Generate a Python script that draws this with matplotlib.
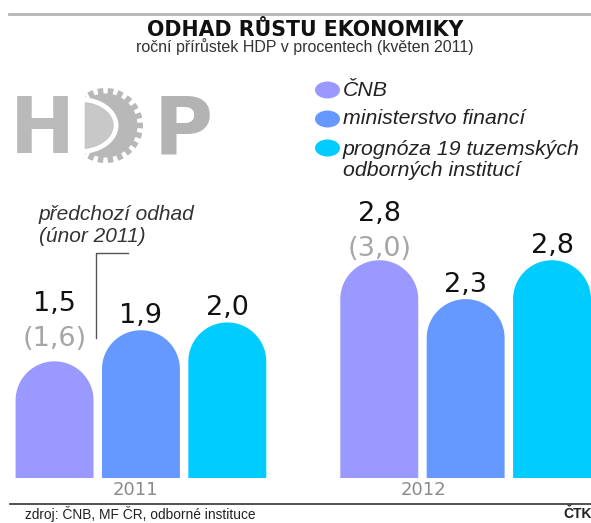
import matplotlib
matplotlib.use("Agg")
import matplotlib.pyplot as plt
from matplotlib.patches import Ellipse, Polygon, PathPatch
from matplotlib.path import Path
import numpy as np

# ---------------- data ----------------
years = ["2011", "2012"]
series_names = ["ČNB", "ministerstvo financí", "prognóza 19 tuzemských\nodborných institucí"]
values_cnb = [1.5, 2.8]
values_mf = [1.9, 2.3]
values_inst = [2.0, 2.8]
prev_cnb = [1.6, 3.0]          # předchozí odhad (únor 2011)
colors = ["#9999ff", "#6699ff", "#00ccff"]

title = "ODHAD RŮSTU EKONOMIKY"
subtitle = "roční přírůstek HDP v procentech (květen 2011)"
note_lines = ["předchozí odhad", "(únor 2011)"]
source = "zdroj: ČNB, MF ČR, odborné instituce"
agency = "ČTK"


def fmt(v):
    return f"{v:.1f}".replace(".", ",")


W, H = 591, 523
fig = plt.figure(figsize=(W / 100, H / 100), dpi=100)
fig.patch.set_facecolor("white")

# ---------------- bar axes ----------------
ax = fig.add_axes([0, 45 / H, 1, 308 / H])
ax.set_xlim(-0.434, 1.386)
ax.set_ylim(0, 3.96)
for s in ax.spines.values():
    s.set_visible(False)
ax.set_yticks([])

bar_w = 0.24
offsets = [-0.266, 0.0, 0.266]
all_vals = [values_cnb, values_mf, values_inst]

p0 = ax.transData.transform((0, 0))
p1 = ax.transData.transform((1, 1))
px_x = p1[0] - p0[0]
px_y = p1[1] - p0[1]
r_y = (bar_w * px_x / 2) / px_y  # cap radius in y data units

PT = 72 / 100  # px -> points
ang = np.linspace(0, np.pi, 60)
for i, vals in enumerate(all_vals):
    xs = np.arange(len(years)) + offsets[i]
    bars = ax.bar(xs, vals, bar_w, color=colors[i], linewidth=0, zorder=2)
    for rect in bars:
        rect.set_visible(False)
        x0, w, h = rect.get_x(), rect.get_width(), rect.get_height()
        cxm = x0 + w / 2
        yb = h - r_y
        verts = [(x0, 0), (x0 + w, 0), (x0 + w, yb)]
        verts += [(cxm + (w / 2) * np.cos(t), yb + r_y * np.sin(t)) for t in ang]
        verts += [(x0, 0)]
        codes = [Path.MOVETO] + [Path.LINETO] * (len(verts) - 2) + [Path.CLOSEPOLY]
        ax.add_patch(PathPatch(Path(verts, codes), facecolor=colors[i], lw=0, zorder=2))

# value labels
prev_gap_px = [15.5, 4.5]
for i, vals in enumerate(all_vals):
    xs = np.arange(len(years)) + offsets[i]
    for j, (x, v) in enumerate(zip(xs, vals)):
        if i == 0:
            ax.annotate("(" + fmt(prev_cnb[j]) + ")", (x, v), xytext=(0, prev_gap_px[j] * PT),
                        textcoords="offset points", ha="center", va="baseline",
                        fontsize=19.5, family="DejaVu Sans", color="#a6a6a6")
            gap = prev_gap_px[j] + 35
        else:
            gap = 7.3
        ax.annotate(fmt(v), (x, v), xytext=(0, gap * PT), textcoords="offset points",
                    ha="center", va="baseline", fontsize=19.5, family="DejaVu Sans",
                    color="#111111")

label_shift = [-0.018, -0.13]
ax.set_xticks([k + label_shift[k] for k in range(len(years))], years)
ax.tick_params(axis="x", length=0, pad=2.5, labelsize=13, labelcolor="#8a8a8a")

# ---------------- overlay (decorations, text) ----------------
ov = fig.add_axes([0, 0, 1, 1], zorder=5)
ov.set_xlim(0, W)
ov.set_ylim(H, 0)
ov.axis("off")
ov.patch.set_alpha(0)

ov.plot([9, W], [14, 14], color="#b5b5b5", lw=2)
ov.text(305, 35.5, title, ha="center", va="baseline", fontsize=14.8, weight="bold",
        family="DejaVu Sans", color="#111111")
ov.text(305, 52, subtitle, ha="center", va="baseline", fontsize=11.5,
        family="Liberation Sans", color="#333333")

# legend
leg_y = [90, 119, 148]
for i, name in enumerate(series_names):
    ov.add_patch(Ellipse((327.5, leg_y[i]), 25, 17, color=colors[i], lw=0))
    ty = leg_y[i] if "\n" not in name else leg_y[i] + 12
    ov.text(343, ty, name, ha="left", va="center", fontsize=15.3, style="italic",
            family="Liberation Sans", color="#222222", linespacing=1.12)

# note "předchozí odhad"
ov.text(39, 215, note_lines[0], ha="left", va="center", fontsize=15, style="italic",
        family="Liberation Sans", color="#333333")
ov.text(39, 237, note_lines[1], ha="left", va="center", fontsize=15, style="italic",
        family="Liberation Sans", color="#333333")
ov.plot([128, 96, 96], [253, 253, 338], color="#555555", lw=1)

# footer
ov.plot([10, W], [504, 504], color="#333333", lw=1.2)
ov.text(25, 514, source, ha="left", va="center", fontsize=9.9,
        family="Liberation Sans", color="#222222")
ov.text(563, 514, agency, ha="left", va="center", fontsize=10, weight="bold",
        family="Liberation Sans", color="#222222")

# HDP logo
ov.text(42.5, 153, "H", ha="center", va="baseline", fontsize=56, weight="bold",
        family="DejaVu Sans", color="#bababa")
ov.text(183, 153, "P", ha="center", va="baseline", fontsize=58, weight="bold",
        family="DejaVu Sans", color="#b3b3b3")
cx, cy = 105.5, 125.5
th = np.linspace(0, 2 * np.pi, 1441)
n_teeth = 22
wave = (np.cos(n_teeth * th) > -0.2).astype(float)
rr = 32 + 5.5 * wave
gx = np.maximum(cx + rr * np.cos(th), 85)
gy = cy - rr * np.sin(th)
ov.add_patch(Polygon(np.column_stack([gx, gy]), closed=True, color="#b8b8b8", lw=0))
a = np.linspace(-np.pi / 2.2, np.pi / 2.2, 100)
ov.plot(80 + 36 * np.cos(a), cy - 26 * np.sin(a), color="white", lw=3.5)
ov.add_patch(Polygon(np.column_stack(
    [np.concatenate([[85], 80 + 33 * np.cos(a), [85]]),
     np.concatenate([[cy - 30], cy - 23 * np.sin(a), [cy + 30]])]),
    closed=True, color="#c8c8c8", lw=0))

fig.savefig("out.png", dpi=100, facecolor="white")
